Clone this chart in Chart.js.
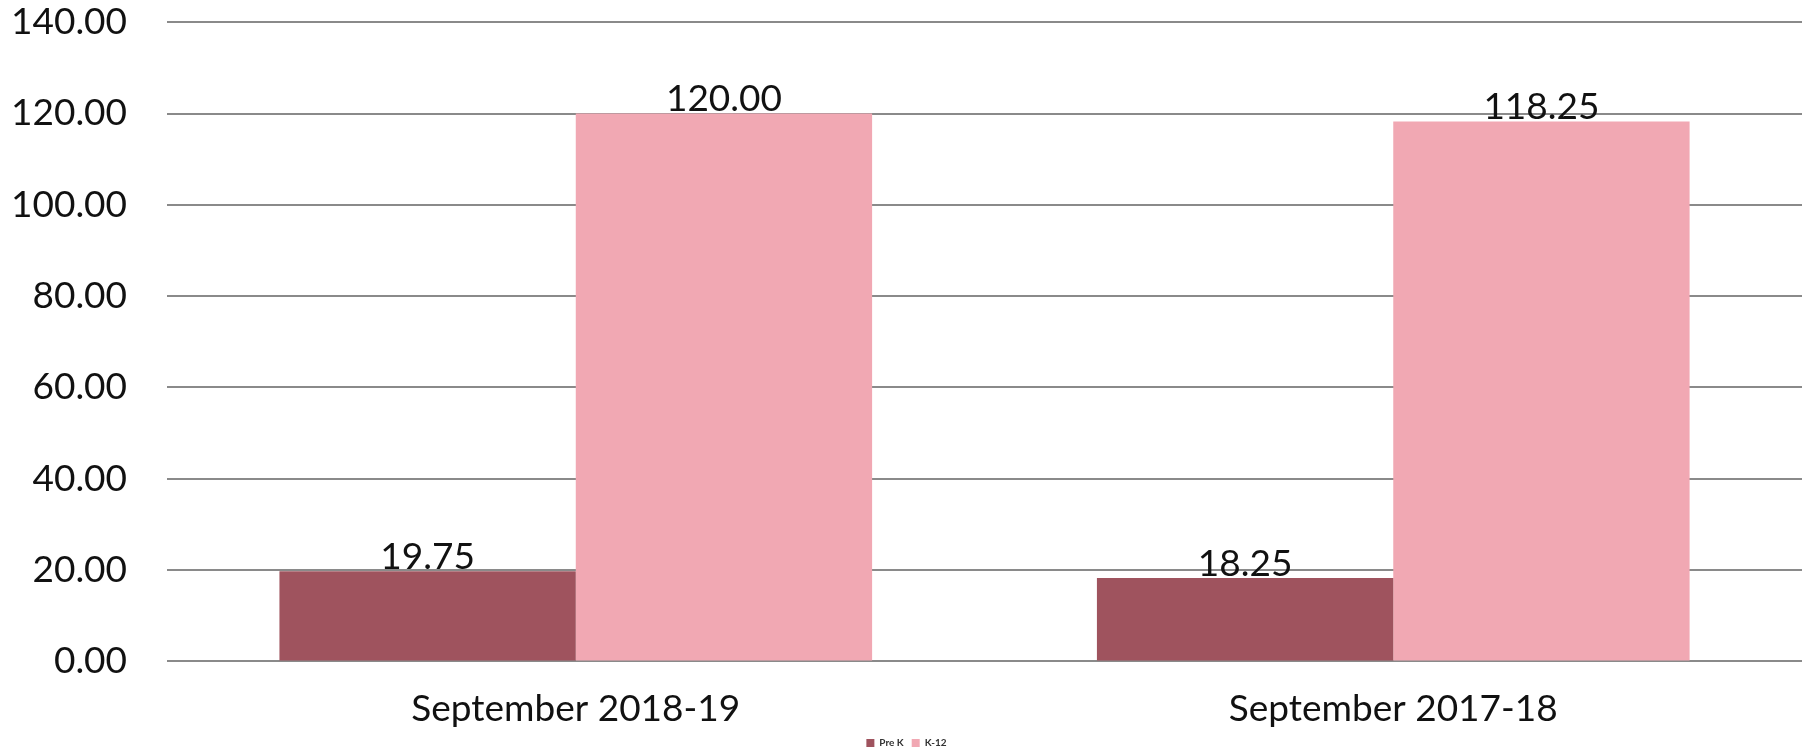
<!DOCTYPE html>
<html>
<head>
<meta charset="utf-8">
<script src="https://cdn.jsdelivr.net/npm/chart.js@4/dist/chart.umd.min.js"></script>
<style>
  html, body { margin: 0; padding: 0; background: #fff; }
  #wrap { width: 1802px; height: 754px; }
</style>
</head>
<body>
<div id="wrap"><canvas id="barChart"></canvas></div>
<script>
// Enrollment chart
const categories = ['September 2018-19', 'September 2017-18'];
const preK = [19.75, 18.25];
const k12 = [120.00, 118.25];
const yTicks = [0, 20, 40, 60, 80, 100, 120, 140];

const FONT = 'Lato, "Open Sans", sans-serif';

// draws the value above each bar
const valueLabels = {
    id: 'valueLabels',
    afterDatasetsDraw(chart) {
        const c = chart.ctx;
        c.save();
        c.font = '37px ' + FONT;
        c.fillStyle = '#111';
        c.textAlign = 'center';
        c.textBaseline = 'bottom';
        chart.data.datasets.forEach((ds, i) => {
            chart.getDatasetMeta(i).data.forEach((bar, j) => {
                c.fillText(ds.data[j].toFixed(2), bar.x, bar.y + 4);
            });
        });
        c.restore();
    }
};

const ctx = document.getElementById('barChart').getContext('2d');
const barChart = new Chart(ctx, {
    type: 'bar',
    data: {
        labels: categories,
        datasets: [
            { label: 'Pre K', data: preK, backgroundColor: '#9F535E' },
            { label: 'K-12', data: k12, backgroundColor: '#F1A8B3' }
        ]
    },
    options: {
        responsive: true,
        maintainAspectRatio: false,
        animation: false,
        layout: { padding: { top: 0, right: 0, bottom: -4, left: 11 } },
        datasets: { bar: { categoryPercentage: 0.725, barPercentage: 1 } },
        plugins: {
            tooltip: { enabled: false },
            legend: {
                position: 'bottom',
                labels: {
                    boxWidth: 8, boxHeight: 8, padding: 8,
                    color: '#333',
                    font: { size: 10, weight: 'bold', family: FONT }
                }
            }
        },
        scales: {
            x: {
                grid: { display: false, drawTicks: true, tickLength: 26, tickColor: 'rgba(0,0,0,0)' },
                border: { display: false },
                ticks: { color: '#111', padding: 0, font: { size: 37, family: FONT, lineHeight: 1.15 } }
            },
            y: {
                min: 0, max: 140,
                afterBuildTicks: axis => { axis.ticks = yTicks.map(v => ({ value: v })); },
                grid: { color: '#8a8a8a', lineWidth: 2, drawTicks: true, tickLength: 40, tickColor: 'rgba(0,0,0,0)' },
                border: { display: false },
                ticks: {
                    color: '#111', padding: 0,
                    font: { size: 37, family: FONT },
                    callback: v => v.toFixed(2)
                }
            }
        }
    },
    plugins: [valueLabels]
});
</script>
</body>
</html>
